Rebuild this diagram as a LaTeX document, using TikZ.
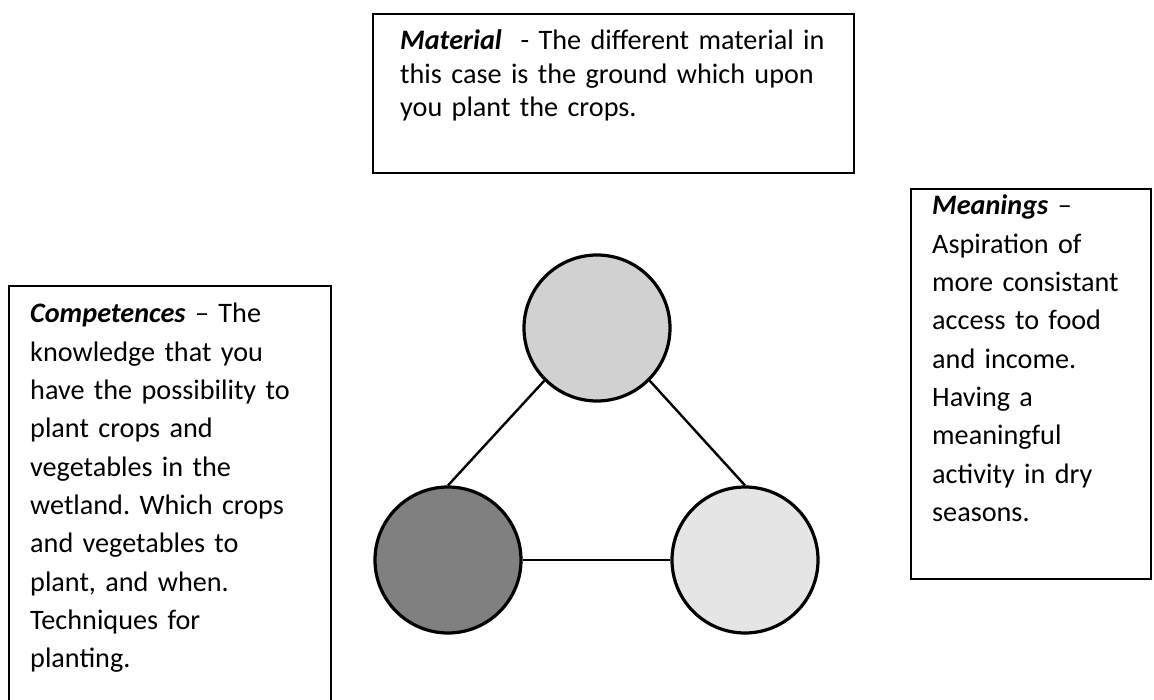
\documentclass[tikz,border=0pt]{standalone}
\usepackage{fontspec}
\setmainfont{Carlito}
\usetikzlibrary{positioning, calc}

\definecolor{materialgray}{gray}{0.82}
\definecolor{competencegray}{gray}{0.50}
\definecolor{meaninggray}{gray}{0.90}

\tikzset{
    notebox/.style={draw, line width=1.8pt, anchor=north west, inner sep=0pt},
    notetext/.style={anchor=base west, align=left, inner sep=0pt, text width=#1},
    element/.style={circle, draw, line width=3.2pt, minimum size=146pt, inner sep=0pt},
    link/.style={line width=2.4pt}
}
\newcommand{\term}[1]{\textbf{\textit{#1}}}
\newcommand{\notefont}[1]{\fontsize{28.2}{#1}\selectfont\spaceskip=0.17em\relax}
\frenchspacing

\begin{document}
\begin{tikzpicture}[x=1pt,y=-1pt]

        \useasboundingbox (0,0) rectangle (1154,700);

        % ===================================================
        % Text boxes
        % ===================================================
        % Material (top)
        \node[notebox, minimum width=481pt, minimum height=159pt] (material) at (372,13) {};
        \node[notetext=450pt, font={\notefont{33.5}}] (materialtext) at (400,50)
            {\term{Material}\ \ - The different material in\\
             this case is the ground which upon\\
             you plant the crops.};

        % Competences (left)
        \node[notebox, minimum width=322pt, minimum height=420pt] (competences) at (8,285) {};
        \node[notetext=295pt, font={\notefont{38.3}}] (competencestext) at (30,323)
            {\term{Competences} -- The\\
             knowledge that you\\
             have the possibility to\\
             plant crops and\\
             vegetables in the\\
             wetland. Which crops\\
             and vegetables to\\
             plant, and when.\\
             Techniques for\\
             planting.};

        % Meanings (right)
        \node[notebox, minimum width=240pt, minimum height=390pt] (meanings) at (910,188) {};
        \node[notetext=215pt, font={\notefont{38.3}}] (meaningstext) at (932,215)
            {\term{Meanings} --\\
             Aspiration of\\
             more consistant\\
             access to food\\
             and income.\\
             Having a\\
             meaningful\\
             activity in dry\\
             seasons.};

        % ===================================================
        % Elements and links
        % ===================================================
        \node[element, fill=materialgray] (mat) at (597,328) {};
        \node[element, fill=competencegray] (comp) at (448,560) {};
        \node[element, fill=meaninggray] (mean) at (745,560) {};

        \draw[link] (mat.south west) -- (comp.north);
        \draw[link] (mat.south east) -- (mean.north);
        \draw[link] (comp.east) -- (mean.west);

    \end{tikzpicture}
\end{document}
